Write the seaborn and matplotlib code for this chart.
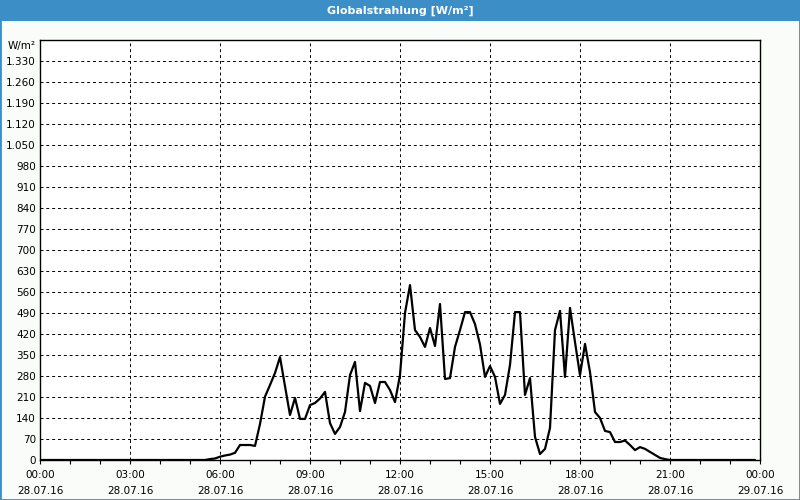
import matplotlib
matplotlib.use("Agg")
import matplotlib.pyplot as plt
from matplotlib.patches import Rectangle
import seaborn as sns
import pandas as pd

# ---- data ----
times = ["00:00", "05:30", "05:40", "05:50", "06:00", "06:10", "06:20", "06:30",
         "06:40", "06:50", "07:00", "07:10", "07:20", "07:30", "07:40", "07:50",
         "08:00", "08:10", "08:20", "08:30", "08:40", "08:50", "09:00", "09:10",
         "09:20", "09:30", "09:40", "09:50", "10:00", "10:10", "10:20", "10:30",
         "10:40", "10:50", "11:00", "11:10", "11:20", "11:30", "11:40", "11:50",
         "12:00", "12:10", "12:20", "12:30", "12:40", "12:50", "13:00", "13:10",
         "13:20", "13:30", "13:40", "13:50", "14:00", "14:10", "14:20", "14:30",
         "14:40", "14:50", "15:00", "15:10", "15:20", "15:30", "15:40", "15:50",
         "16:00", "16:10", "16:20", "16:30", "16:40", "16:50", "17:00", "17:10",
         "17:20", "17:30", "17:40", "17:50", "18:00", "18:10", "18:20", "18:30",
         "18:40", "18:50", "19:00", "19:10", "19:20", "19:30", "19:40", "19:50",
         "20:00", "20:10", "20:20", "20:30", "20:40", "20:50", "21:00", "23:50"]
values = [0, 0, 3, 5, 11, 15, 18, 24,
          50, 50, 50, 47, 120, 211, 250, 290,
          343, 246, 150, 207, 137, 137, 183, 190,
          205, 227, 123, 87, 110, 160, 283, 327,
          163, 257, 247, 190, 260, 260, 233, 193,
          283, 490, 583, 433, 410, 377, 440, 380,
          520, 270, 273, 377, 433, 493, 493, 453,
          385, 277, 313, 277, 187, 217, 317, 493,
          493, 217, 273, 77, 20, 37, 107, 433,
          497, 277, 507, 393, 283, 387, 293, 160,
          140, 97, 93, 60, 60, 65, 50, 33,
          43, 37, 27, 17, 7, 3, 0, 0]

x_tick_hours = [0, 3, 6, 9, 12, 15, 18, 21, 24]
x_tick_labels = ["00:00\n28.07.16", "03:00\n28.07.16", "06:00\n28.07.16",
                 "09:00\n28.07.16", "12:00\n28.07.16", "15:00\n28.07.16",
                 "18:00\n28.07.16", "21:00\n28.07.16", "00:00\n29.07.16"]
y_ticks = list(range(0, 1331, 70))
y_tick_labels = [f"{v:,}".replace(",", ".") for v in y_ticks]
title = "Globalstrahlung [W/m²]"
unit = "W/m²"

hours = [int(t[:2]) + int(t[3:]) / 60 for t in times]
df = pd.DataFrame({"hour": hours, "value": values})

# ---- style ----
sns.set_style("white")
plt.rcParams["font.family"] = ["DejaVu Sans"]
plt.rcParams["font.size"] = 7.5
plt.rcParams["text.color"] = "black"
plt.rcParams["xtick.color"] = "black"
plt.rcParams["ytick.color"] = "black"
plt.rcParams["xtick.labelcolor"] = "black"
plt.rcParams["ytick.labelcolor"] = "black"

BLUE = "#3b8fc6"
fig = plt.figure(figsize=(8, 5), dpi=100, facecolor="#f9fcf9")
ax = fig.add_axes([40 / 800, 40 / 500, 720 / 800, 420 / 500])
ax.set_facecolor("white")

sns.lineplot(data=df, x="hour", y="value", color="black", linewidth=1.6, ax=ax)

ax.set_xlim(0, 24)
ax.set_ylim(0, 1400)
ax.set_xticks(x_tick_hours)
ax.set_xticklabels(x_tick_labels, linespacing=1.75)
ax.set_xticks(range(0, 25), minor=True)
ax.set_yticks(y_ticks)
ax.set_yticklabels(y_tick_labels)
ax.set_xlabel("")
ax.set_ylabel("")

ax.tick_params(axis="x", which="both", direction="out", length=3, width=0.8,
               color="black", labelcolor="black", pad=4, bottom=True)
ax.tick_params(axis="y", length=0, pad=3, labelcolor="black")

for s in ax.spines.values():
    s.set_color("black")
    s.set_linewidth(1.0)

for v in y_ticks[1:]:
    ax.axhline(v, color="black", lw=0.7, dashes=(3, 3), zorder=0)
for h in x_tick_hours[1:-1]:
    ax.axvline(h, color="black", lw=0.7, dashes=(3, 3), zorder=0)

# unit label at top of y axis
fig.text(36 / 800, 1 - 46 / 500, unit, ha="right", va="center", fontsize=7.5,
         color="black")

# title bar
fig.patches.append(Rectangle((0, 1 - 21 / 500), 1, 21 / 500,
                             transform=fig.transFigure, facecolor=BLUE,
                             edgecolor="none", zorder=0))
fig.text(0.5, 1 - 10.5 / 500, title, ha="center", va="center", color="white",
         fontsize=8, fontweight="bold")
# thin blue frame
fig.patches.append(Rectangle((0, 0), 1, 1, transform=fig.transFigure,
                             fill=False, edgecolor=BLUE, linewidth=2.0, zorder=5))

fig.savefig("out.png", dpi=100, facecolor=fig.get_facecolor())
